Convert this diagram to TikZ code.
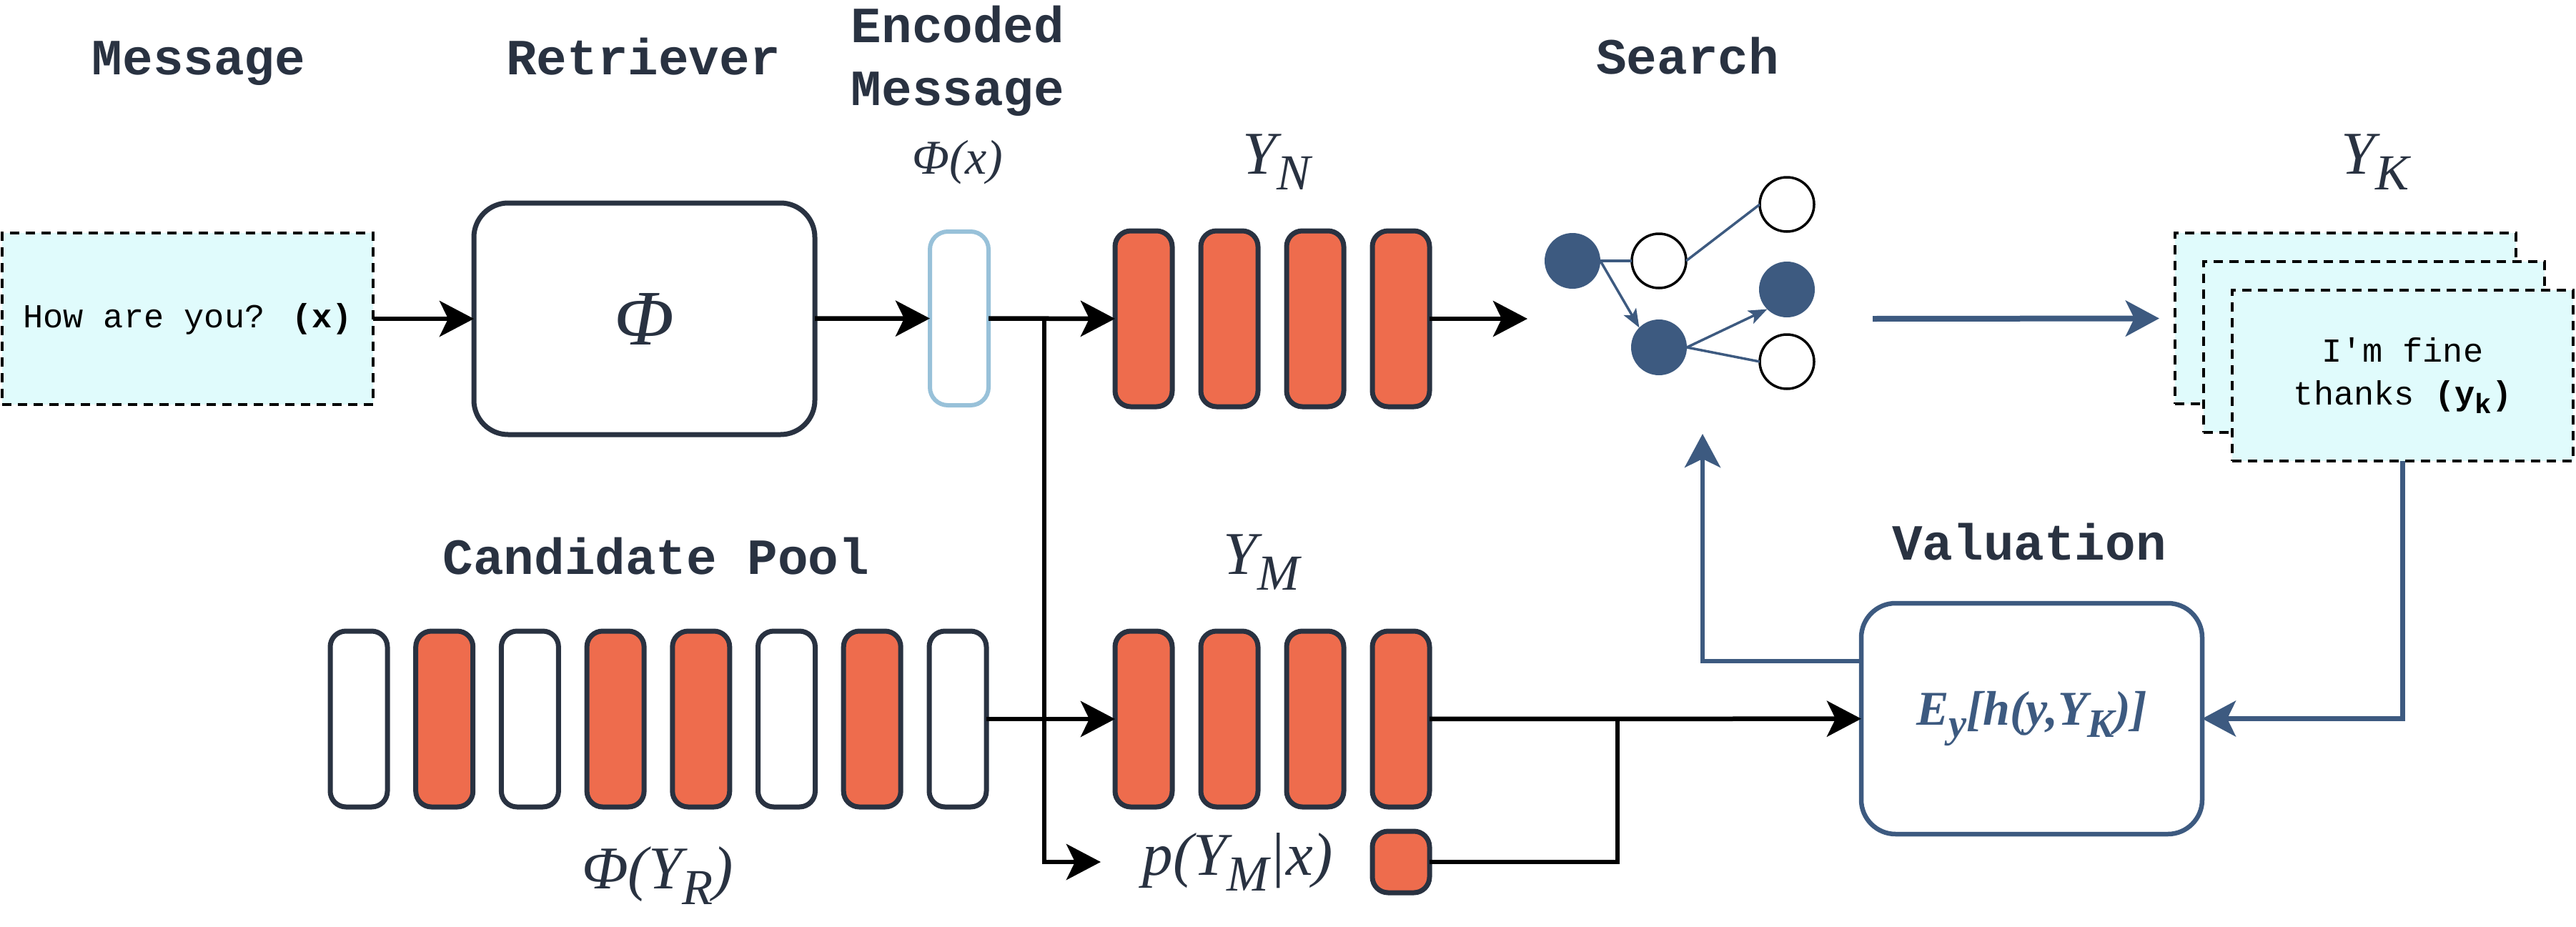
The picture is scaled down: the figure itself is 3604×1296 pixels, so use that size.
\documentclass[tikz,border=0pt]{standalone}
\usepackage{fontspec}
\setmainfont{Liberation Serif}
\newfontfamily\monofam{Liberation Mono}
\usetikzlibrary{arrows.meta}
\definecolor{cdark}{HTML}{293241}
\definecolor{corange}{HTML}{EE6C4D}
\definecolor{cblue}{HTML}{3D5A80}
\definecolor{clblue}{HTML}{98C1D9}
\definecolor{ccyan}{HTML}{E0FBFC}
\newcommand\fsz[1]{\fontsize{#1}{#1}\selectfont}
\newcommand\lsub[1]{\raisebox{-0.26em}{\scalebox{0.83}{#1}}}
\tikzset{
  title/.style={font=\monofam\bfseries\fsz{71}, text=cdark, anchor=base, inner sep=0},
  mlabel/.style={font=\itshape\fsz{85}, text=cdark, anchor=base, inner sep=0},
  bar/.style={draw=cdark, line width=7pt, rounded corners=22pt, minimum width=80pt, minimum height=246pt, inner sep=0, outer sep=0},
  obar/.style={bar, fill=corange},
  wbar/.style={bar, fill=white},
  dbox/.style={draw=black, line width=4pt, dash pattern=on 13pt off 9pt, fill=ccyan, minimum width=477pt, minimum height=239pt, inner sep=0, outer sep=0},
  gfill/.style={circle, fill=cblue, minimum size=78pt, inner sep=0, outer sep=0},
  gopen/.style={circle, draw=black, line width=3.5pt, fill=white, minimum size=76pt, inner sep=0, outer sep=0},
  gline/.style={draw=cblue, line width=3.5pt},
  garrow/.style={gline, -{Stealth[length=26pt, width=20pt, inset=6pt]}},
  blkline/.style={draw=black, line width=6.5pt},
  blk/.style={blkline, -{Stealth[length=48pt, width=50pt, inset=12pt]}},
  bluline/.style={draw=cblue, line width=6.5pt},
  bluarrow/.style={bluline, -{Stealth[length=47pt, width=50pt, inset=12pt]}},
}
\begin{document}
\begin{tikzpicture}[x=1pt,y=-1pt]
\useasboundingbox (0,0) rectangle (3604,1296);

% titles
\node[title] (tmsg) at (278,104) {Message};
\node[title] (tret) at (900,104) {Retriever};
\node[title] (tenc1) at (1340,59) {Encoded};
\node[title] (tenc2) at (1340,147) {Message};
\node[title] (tsearch) at (2361,103) {Search};
\node[title] (tcand) at (918,803) {Candidate Pool};
\node[title] (tval) at (2839,783) {Valuation};

% math labels
\node[mlabel, font=\itshape\fsz{68}] (lphix) at (1340,243) {Φ(x)};
\node[mlabel] (lyn) at (1786,243) {Y\lsub{N}};
\node[mlabel] (lyk) at (3323,243) {Y\lsub{K}};
\node[mlabel] (lym) at (1765,803) {Y\lsub{M}};
\node[mlabel] (lphiyr) at (920,1243) {Φ(Y\lsub{R})};
\node[mlabel] (lp) at (1732,1224) {p(Y\lsub{M}|x)};

% message box
\node[dbox, minimum width=519pt, minimum height=240pt, font=\monofam\fsz{47}] (msg) at (262.5,446) {How are you? \textbf{(x)}};

% retriever
\node[draw=cdark, line width=7pt, rounded corners=48pt, minimum width=477pt, minimum height=324pt, inner sep=0, outer sep=0, font=\itshape\fsz{110}, text=cdark] (ret) at (901.5,446) {\raisebox{-5pt}{Φ}};

% encoded vector
\node[draw=clblue, line width=6pt, rounded corners=25pt, minimum width=82pt, minimum height=243pt, fill=white, inner sep=0, outer sep=0] (enc) at (1342,445.5) {};

% Y_N bars
\foreach \i/\x in {1/1600,2/1720,3/1840,4/1960}
  \node[obar] (yn\i) at (\x,446) {};

% candidate pool
\foreach \i/\x/\s in {1/502/wbar,2/621.7/obar,3/741.4/wbar,4/861.1/obar,5/980.8/obar,6/1100.5/wbar,7/1220.2/obar,8/1340/wbar}
  \node[\s] (c\i) at (\x,1006) {};

% Y_M bars
\foreach \i/\x in {1/1600,2/1720,3/1840,4/1960}
  \node[obar] (ym\i) at (\x,1006) {};

% probability box
\node[obar, minimum height=86pt] (pb) at (1960,1206) {};

% valuation
\node[draw=cblue, line width=6.5pt, rounded corners=48pt, minimum width=477pt, minimum height=323pt, inner sep=0, outer sep=0, text=cblue, font=\bfseries\itshape\fsz{68}] (val) at (2842.5,1005.5) {E\lsub{y}[h(y,Y\lsub{K})]};

% Y_K stacked boxes
\node[dbox] (yk1) at (3281.5,445.5) {};
\node[dbox] (yk2) at (3321.5,485.5) {};
\node[dbox, align=center, font=\monofam\fontsize{47}{60}\selectfont] (yk3) at (3361.5,525.5) {I'm fine\\thanks \textbf{(y\lsub{k})}};

% search graph
\node[gfill] (ga) at (2200,365) {};
\node[gopen] (gb) at (2321,365) {};
\node[gopen] (gc) at (2500,286) {};
\node[gfill] (gd) at (2321,486) {};
\node[gfill] (ge) at (2500,405) {};
\node[gopen] (gf) at (2500,506) {};
\draw[gline] (ga.east) -- (gb.west);
\draw[gline] (gb.east) -- (gc.west);
\draw[garrow] (ga.east) -- (gd.north west);
\draw[garrow] (gd.east) -- (ge.south west);
\draw[gline] (gd.east) -- (gf.west);

% connectors
\coordinate (j1) at (1461,446);
\coordinate (ptip) at (1540,1206);
\coordinate (j2) at (2263,1006);
\coordinate (sin) at (2137,446);
\coordinate (sout) at (2620,446);
\coordinate (vout) at (2604,925);
\coordinate (sbot) at (2382,607);

\draw[blk] (msg) -- (ret);
\draw[blk] (ret) -- (enc);
\draw[blk] (enc) -- (yn1);
\draw[blk] (j1) |- (ptip);
\draw[blk] (c8) -- (ym1);
\draw[blk] (ym4) -- (val);
\draw[blkline] (pb) -| (j2);
\draw[blk] (yn4) -- (sin);
\draw[bluarrow, line width=8pt] (sout) -- ([xshift=-22pt]yk1.west);
\draw[bluarrow] (yk3.south) |- (val.east);
\draw[bluarrow] (vout) -| (sbot);
\end{tikzpicture}
\end{document}
